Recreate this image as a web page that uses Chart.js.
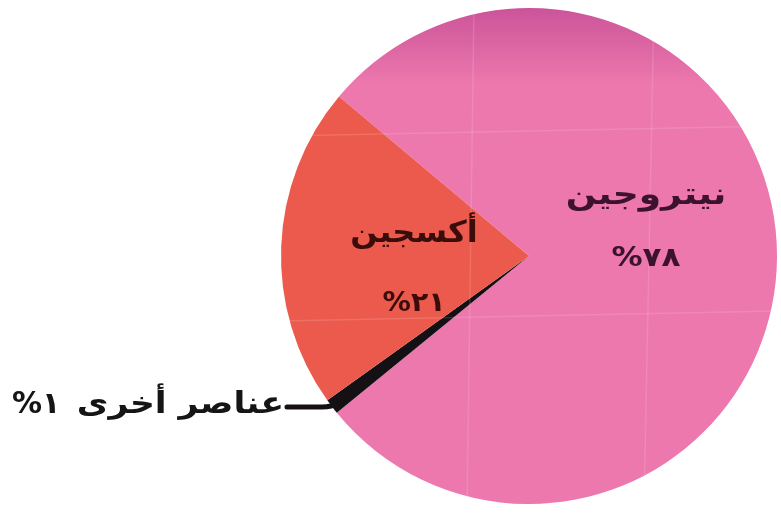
<!DOCTYPE html>
<html lang="ar">
<head>
    <meta charset="UTF-8">
    <title>مكونات الهواء</title>
    <script src="https://cdn.jsdelivr.net/npm/chart.js"></script>
    <style>
        html, body { margin: 0; padding: 0; background: #ffffff; }
        #wrap { position: relative; width: 781px; height: 513px; }
    </style>
</head>
<body>
    <div id="wrap"><canvas id="airChart"></canvas></div>

    <script>
        // data
        const gases = ['نيتروجين', 'عناصر أخرى', 'أكسجين'];
        const shares = [78, 1, 21];
        const shareText = ['%٧٨', '%١', '%٢١'];

        const sliceColors = ['#ec78ad', '#141014', '#ec5a4e'];
        const rimColors = ['#cc539a', '#141014', '#dc4a40'];

        // darker rim at the top, like the tilted disc in the print
        function sliceFill(context) {
            const i = context.dataIndex;
            const area = context.chart.chartArea;
            if (!area) return sliceColors[i];
            const g = context.chart.ctx.createLinearGradient(0, area.top, 0, area.top + 75);
            g.addColorStop(0, rimColors[i]);
            g.addColorStop(1, sliceColors[i]);
            return g;
        }

        // draw text a bit wider, the printed font is broad
        function wideText(ctx, txt, x, y, sx) {
            ctx.save();
            ctx.translate(x, y);
            ctx.scale(sx, 1);
            ctx.fillText(txt, 0, 0);
            ctx.restore();
        }

        const labelPlugin = {
            id: 'sliceLabels',
            afterDatasetsDraw(chart) {
                const ctx = chart.ctx;
                const arcs = chart.getDatasetMeta(0).data;
                const cx = arcs[0].x, cy = arcs[0].y, r = arcs[0].outerRadius;
                ctx.save();

                // faint paper grid over the disc
                ctx.beginPath();
                ctx.arc(cx, cy, r, 0, Math.PI * 2);
                ctx.clip();
                ctx.strokeStyle = 'rgba(255,255,255,0.13)';
                ctx.lineWidth = 1.5;
                [[cx - 55, cy - 250, cx - 62, cy + 250], [cx + 125, cy - 250, cx + 115, cy + 250],
                 [cx - 250, cy - 120, cx + 250, cy - 130], [cx - 250, cy + 65, cx + 250, cy + 55]]
                    .forEach(l => { ctx.beginPath(); ctx.moveTo(l[0], l[1]); ctx.lineTo(l[2], l[3]); ctx.stroke(); });
                ctx.restore();

                ctx.save();
                ctx.textAlign = 'center';
                ctx.textBaseline = 'middle';

                // nitrogen
                ctx.fillStyle = '#3d1230';
                ctx.font = 'bold 30px "DejaVu Sans"';
                ctx.direction = 'rtl';
                wideText(ctx, gases[0], cx + 117, cy - 60, 1.2);
                ctx.font = 'bold 27px "DejaVu Sans"';
                ctx.direction = 'ltr';
                wideText(ctx, shareText[0], cx + 117, cy + 3, 1.15);

                // oxygen
                ctx.fillStyle = '#3a0d0b';
                ctx.font = 'bold 30px "DejaVu Sans"';
                ctx.direction = 'rtl';
                wideText(ctx, gases[2], cx - 115, cy - 22, 1.07);
                ctx.font = 'bold 27px "DejaVu Sans"';
                ctx.direction = 'ltr';
                wideText(ctx, shareText[2], cx - 115, cy + 48, 1.05);

                // leader for the small slice
                const a = arcs[1];
                const mid = (a.startAngle + a.endAngle) / 2;
                const rx = cx + a.outerRadius * Math.cos(mid);
                const ry = cy + a.outerRadius * Math.sin(mid);
                const ly = 407;
                ctx.strokeStyle = '#141014';
                ctx.lineWidth = 5;
                ctx.lineCap = 'round';
                ctx.beginPath();
                ctx.moveTo(287, ly);
                ctx.lineTo(rx - 10, ly);
                ctx.quadraticCurveTo(rx, ly, rx + 6, ry - 4);
                ctx.stroke();

                ctx.fillStyle = '#151515';
                ctx.font = 'bold 30px "DejaVu Sans"';
                ctx.direction = 'rtl';
                ctx.textAlign = 'right';
                wideText(ctx, gases[1], 284, ly - 2, 1.15);
                ctx.direction = 'ltr';
                ctx.textAlign = 'left';
                wideText(ctx, shareText[1], 12, ly - 2, 1.0);
                ctx.restore();
            }
        };

        const ctx = document.getElementById('airChart').getContext('2d');
        new Chart(ctx, {
            type: 'pie',
            data: {
                labels: gases,
                datasets: [{
                    data: shares,
                    backgroundColor: sliceFill,
                    borderWidth: 0
                }]
            },
            options: {
                responsive: true,
                maintainAspectRatio: false,
                animation: false,
                rotation: 310,
                layout: { padding: { left: 280, right: 3, top: 8, bottom: 9 } },
                plugins: {
                    legend: { display: false },
                    tooltip: { enabled: false }
                }
            },
            plugins: [labelPlugin]
        });
    </script>
</body>
</html>
